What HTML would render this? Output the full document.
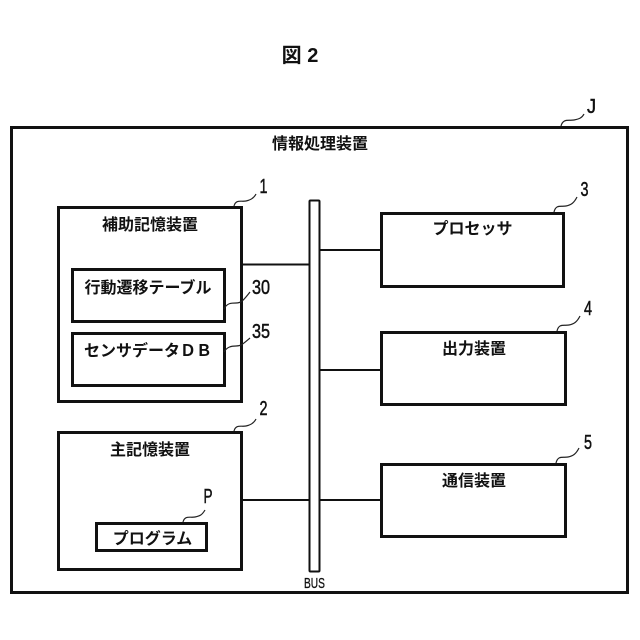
<!DOCTYPE html>
<html lang="ja"><head><meta charset="utf-8"><style>
html,body{margin:0;padding:0;background:#fff}
svg{display:block}
text{font-family:"Liberation Sans","Noto Sans CJK JP",sans-serif;font-weight:700;fill:#111;text-anchor:middle}
.b{fill:#fff;stroke:#111;stroke-width:3}
.l{fill:none;stroke:#111;stroke-width:2}
.c{fill:none;stroke:#222;stroke-width:1.2}
.t{font-size:16px}
.n{font-size:20px;font-weight:400;stroke:#111;stroke-width:.5}
</style></head><body>
<svg width="640" height="640" viewBox="0 0 640 640" xmlns="http://www.w3.org/2000/svg">
<rect width="640" height="640" fill="#fff"/>
<text x="300" y="62" font-size="20">図 2</text>
<rect class="b" x="11.5" y="127.5" width="616" height="465"/>
<rect class="b" x="58.5" y="207.5" width="183" height="194"/>
<rect class="b" x="72.5" y="269.5" width="152" height="52"/>
<rect class="b" x="72.5" y="333.5" width="152" height="52"/>
<rect class="b" x="58.5" y="432.5" width="183" height="137"/>
<rect class="b" x="96.5" y="523.5" width="110" height="27"/>
<rect x="309.5" y="200.5" width="10" height="371" rx="1" fill="#fff" stroke="#111" stroke-width="2"/>
<rect class="b" x="381.5" y="213.5" width="182" height="73"/>
<rect class="b" x="381.5" y="332.5" width="184" height="72"/>
<rect class="b" x="381.5" y="464.5" width="184" height="72"/>
<path class="l" d="M242 264.5H309M320 250H381M320 370H381M242 500H309M320 500H381"/>
<path class="c" d="M561 126c2-8 8-5 13-6s8-2 10-6"/>
<path class="c" d="M234 206c2-7 7-4 12-5s8-3 10-7"/>
<path class="c" d="M224 309c3-6 7-6 12-6s7-2 14-11"/>
<path class="c" d="M224 352c3-5 7-6 12-6s7-2 14-8"/>
<path class="c" d="M234 431c2-7 7-4 12-5s8-3 10-7"/>
<path class="c" d="M183 522c2-7 7-4 12-5s7-2 10-7"/>
<path class="c" d="M554 212c2-8 7-5 12-6s8-3 11-9"/>
<path class="c" d="M557 331c2-8 7-5 12-6s8-3 11-9"/>
<path class="c" d="M556 463c2-8 7-5 12-6s8-3 11-9"/>
<text class="t" x="320" y="149">情報処理装置</text>
<text class="t" x="150" y="230">補助記憶装置</text>
<text class="t" x="148" y="293">行動遷移テーブル</text>
<text class="t" x="148" y="356">センサデータＤＢ</text>
<text class="t" x="150" y="455">主記憶装置</text>
<text class="t" x="152.5" y="544">プログラム</text>
<text class="t" x="472.5" y="234">プロセッサ</text>
<text class="t" x="474" y="354">出力装置</text>
<text class="t" x="474" y="486">通信装置</text>
<text class="n" x="591.5" y="113" textLength="9" lengthAdjust="spacingAndGlyphs">J</text>
<text class="n" x="263.5" y="193" textLength="8" lengthAdjust="spacingAndGlyphs">1</text>
<text class="n" x="261" y="294" textLength="18" lengthAdjust="spacingAndGlyphs">30</text>
<text class="n" x="261" y="338" textLength="18" lengthAdjust="spacingAndGlyphs">35</text>
<text class="n" x="263.5" y="415" textLength="8" lengthAdjust="spacingAndGlyphs">2</text>
<text class="n" x="208" y="503" textLength="9" lengthAdjust="spacingAndGlyphs">P</text>
<text class="n" x="584.5" y="196" textLength="8" lengthAdjust="spacingAndGlyphs">3</text>
<text class="n" x="588" y="315" textLength="8" lengthAdjust="spacingAndGlyphs">4</text>
<text class="n" x="588" y="449" textLength="8" lengthAdjust="spacingAndGlyphs">5</text>
<text x="314.5" y="588" font-size="15" style="font-weight:400;stroke:#111;stroke-width:.3" textLength="21" lengthAdjust="spacingAndGlyphs">BUS</text>
</svg>
</body></html>
